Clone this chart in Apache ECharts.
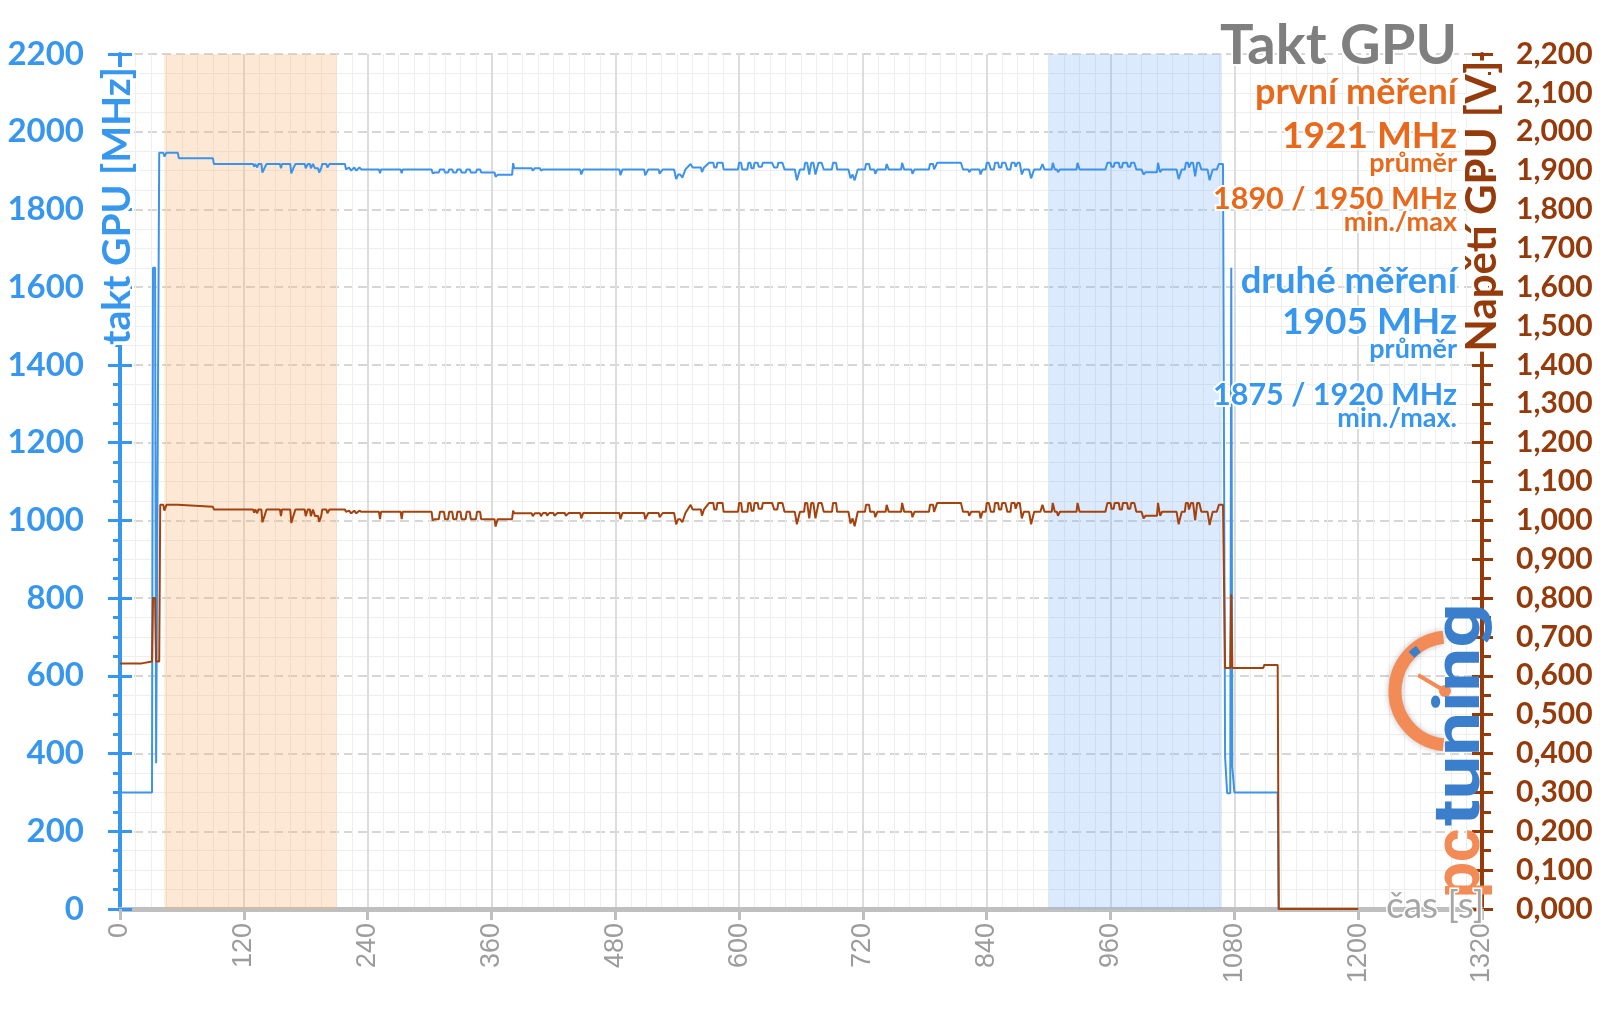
<!DOCTYPE html>
<html>
<head>
<meta charset="utf-8">
<script src="https://cdn.jsdelivr.net/npm/echarts@6/dist/echarts.min.js"></script>
<style>html,body{margin:0;padding:0;background:#fff}#c{width:1600px;height:1009px}</style>
</head>
<body>
<div id="c"></div>
<script>
// ---------- DATA ----------
const timeAxis = { min: 0, max: 1320, interval: 120 };
const clockAxis = { min: 0, max: 2200, interval: 200 };
const voltAxis = { min: 0, max: 2.2, interval: 0.1 };

// measurement windows [from s, to s]
const bandFirst = [43, 210];
const bandSecond = [900, 1068];

// GPU clock [s, MHz]
const clockPoints = [
[0,300],[31,300],[32,1650],[34,1650],[35,375],[38,1946],[42,1946],[43,1936],[45,1946],[56,1946],[57,1932],[90,1932],[91,1917],
[129,1917],[130,1910],[131,1917],[133,1908],[134,1917],[137,1917],[138,1895],[140,1906],[142,1917],[155,1917],[156,1906],[157,1917],
[165,1917],[166,1893],[168,1906],[170,1917],[179,1917],[180,1906],[182,1917],[184,1917],[185,1906],[187,1917],[189,1906],[192,1906],
[193,1895],[195,1906],[196,1917],[200,1917],[201,1908],[203,1917],[218,1917],[219,1903],[222,1908],[224,1900],[227,1908],[229,1900],
[232,1908],[234,1903],[251,1903],[252,1893],[253,1903],[272,1903],[273,1893],[274,1903],[302,1903],[303,1893],[305,1895],[309,1895],
[310,1903],[314,1903],[315,1895],[318,1895],[319,1903],[322,1903],[323,1895],[326,1895],[327,1903],[330,1903],[331,1895],[335,1895],
[336,1903],[339,1903],[340,1895],[345,1895],[346,1903],[349,1903],[350,1895],[363,1895],[364,1884],[366,1889],[380,1889],[381,1919],
[382,1906],[399,1906],[400,1900],[402,1906],[407,1906],[408,1900],[410,1903],[413,1903],[414,1898],[416,1903],[420,1903],[421,1898],
[424,1903],[431,1903],[432,1898],[435,1903],[446,1903],[447,1890],[449,1903],[484,1903],[485,1888],[487,1903],[508,1903],[509,1888],
[512,1903],[522,1903],[523,1892],[526,1903],[537,1903],[539,1878],[541,1890],[543,1890],[545,1882],[548,1903],[553,1917],[555,1908],
[563,1908],[564,1896],[566,1908],[571,1920],[575,1920],[576,1908],[578,1908],[579,1920],[584,1920],[585,1903],[599,1903],[600,1920],
[602,1920],[603,1903],[608,1903],[609,1920],[611,1920],[612,1906],[614,1906],[615,1920],[618,1920],[619,1910],[622,1910],[623,1920],
[632,1920],[634,1908],[637,1908],[638,1920],[642,1920],[644,1903],[654,1903],[656,1875],[659,1903],[663,1903],[664,1920],[666,1920],
[668,1890],[670,1920],[672,1920],[674,1890],[677,1920],[680,1920],[682,1903],[690,1903],[691,1920],[694,1920],[695,1903],[706,1903],
[708,1880],[710,1890],[712,1875],[715,1903],[722,1903],[723,1917],[726,1917],[727,1903],[731,1903],[732,1892],[734,1903],[742,1903],
[743,1917],[745,1903],[757,1903],[758,1920],[760,1903],[767,1903],[768,1892],[770,1903],[784,1903],[785,1917],[788,1917],[789,1903],
[790,1903],[792,1920],[815,1920],[817,1903],[822,1903],[823,1896],[825,1903],[833,1903],[834,1890],[836,1903],[839,1903],[840,1920],
[842,1920],[844,1903],[847,1903],[848,1920],[851,1920],[852,1908],[854,1908],[855,1920],[858,1920],[860,1903],[863,1903],[864,1920],
[867,1920],[868,1910],[869,1910],[870,1920],[872,1920],[874,1890],[876,1903],[881,1903],[883,1880],[886,1903],[892,1903],[894,1917],
[896,1903],[903,1903],[904,1920],[906,1903],[908,1903],[909,1896],[911,1903],[927,1903],[928,1920],[930,1903],[955,1903],[957,1920],
[960,1920],[961,1910],[963,1910],[964,1920],[968,1920],[969,1908],[971,1908],[972,1920],[976,1920],[977,1910],[979,1910],[980,1920],
[983,1920],[985,1903],[990,1903],[992,1890],[994,1896],[1005,1896],[1006,1920],[1008,1896],[1010,1903],[1024,1903],[1026,1878],
[1029,1903],[1032,1903],[1033,1920],[1035,1920],[1036,1908],[1038,1920],[1040,1920],[1042,1885],[1044,1920],[1046,1920],[1048,1903],
[1054,1903],[1056,1875],[1059,1903],[1063,1903],[1065,1917],[1069,1917],[1071,392],[1073,298],[1076,298],[1077,1650],[1078,366],
[1080,300],[1122,300],[1123,0],[1200,0]
];

// GPU voltage [s, V]
const voltagePoints = [
[0,0.632],[21,0.632],[22,0.637],[31,0.637],[32,0.800],[34,0.800],[35,0.637],[38,0.637],[39,1.040],[42,1.040],[43,1.025],[45,1.040],
[56,1.040],[57,1.035],[90,1.035],[91,1.028],[129,1.028],[130,1.020],[131,1.028],[133,1.018],[134,1.028],[137,1.028],[138,0.995],
[140,1.011],[142,1.028],[155,1.028],[156,1.011],[157,1.028],[165,1.028],[166,0.993],[168,1.011],[170,1.028],[179,1.028],[180,1.011],
[182,1.028],[184,1.028],[185,1.011],[187,1.028],[189,1.011],[192,1.011],[193,0.996],[195,1.011],[196,1.028],[200,1.028],[201,1.018],
[203,1.028],[218,1.028],[219,1.022],[222,1.025],[224,1.018],[227,1.025],[229,1.018],[232,1.025],[234,1.022],[251,1.022],[252,1.003],
[253,1.022],[272,1.022],[273,1.003],[274,1.022],[302,1.022],[303,1.000],[305,1.003],[309,1.003],[310,1.022],[314,1.022],[315,1.003],
[318,1.003],[319,1.022],[322,1.022],[323,1.003],[326,1.003],[327,1.022],[330,1.022],[331,1.003],[335,1.003],[336,1.022],[339,1.022],
[340,1.003],[345,1.003],[346,1.022],[349,1.022],[350,1.003],[363,1.003],[364,0.984],[366,1.003],[380,1.003],[381,1.025],[382,1.018],
[399,1.018],[400,1.011],[402,1.018],[407,1.018],[408,1.011],[410,1.019],[413,1.019],[414,1.012],[416,1.019],[420,1.019],[421,1.012],
[424,1.019],[431,1.019],[432,1.012],[435,1.019],[446,1.019],[447,1.005],[449,1.019],[484,1.019],[485,1.003],[487,1.019],[508,1.019],
[509,1.003],[512,1.019],[522,1.019],[523,1.008],[526,1.019],[537,1.019],[539,0.990],[541,1.003],[543,1.003],[545,0.995],[548,1.019],
[553,1.040],[555,1.028],[563,1.028],[564,1.012],[566,1.028],[571,1.045],[575,1.045],[576,1.028],[578,1.028],[579,1.045],[584,1.045],
[585,1.022],[599,1.022],[600,1.045],[602,1.045],[603,1.022],[608,1.022],[609,1.045],[611,1.045],[612,1.025],[614,1.025],[615,1.045],
[618,1.045],[619,1.030],[622,1.030],[623,1.045],[632,1.045],[634,1.028],[637,1.028],[638,1.045],[642,1.045],[644,1.022],[654,1.022],
[656,0.990],[659,1.022],[663,1.022],[664,1.045],[666,1.045],[668,1.005],[670,1.045],[672,1.045],[674,1.005],[677,1.045],[680,1.045],
[682,1.022],[690,1.022],[691,1.045],[694,1.045],[695,1.022],[706,1.022],[708,0.992],[710,1.005],[712,0.985],[715,1.022],[722,1.022],
[723,1.040],[726,1.040],[727,1.022],[731,1.022],[732,1.008],[734,1.022],[742,1.022],[743,1.040],[745,1.022],[757,1.022],[758,1.045],
[760,1.022],[767,1.022],[768,1.008],[770,1.022],[784,1.022],[785,1.040],[788,1.040],[789,1.022],[790,1.022],[792,1.045],[815,1.045],
[817,1.022],[822,1.022],[823,1.012],[825,1.022],[833,1.022],[834,1.005],[836,1.022],[839,1.022],[840,1.045],[842,1.045],[844,1.022],
[847,1.022],[848,1.045],[851,1.045],[852,1.028],[854,1.028],[855,1.045],[858,1.045],[860,1.022],[863,1.022],[864,1.045],[867,1.045],
[868,1.030],[869,1.030],[870,1.045],[872,1.045],[874,1.005],[876,1.022],[881,1.022],[883,0.990],[886,1.022],[892,1.022],[894,1.040],
[896,1.022],[903,1.022],[904,1.045],[906,1.022],[908,1.022],[909,1.012],[911,1.022],[927,1.022],[928,1.045],[930,1.022],[955,1.022],
[957,1.045],[960,1.045],[961,1.030],[963,1.030],[964,1.045],[968,1.045],[969,1.028],[971,1.028],[972,1.045],[976,1.045],[977,1.030],
[979,1.030],[980,1.045],[983,1.045],[985,1.022],[990,1.022],[992,1.005],[994,1.012],[1005,1.012],[1006,1.045],[1008,1.012],[1010,1.022],
[1024,1.022],[1026,0.990],[1029,1.022],[1032,1.022],[1033,1.045],[1035,1.045],[1036,1.028],[1038,1.045],[1040,1.045],[1042,1.000],
[1044,1.045],[1046,1.045],[1048,1.022],[1054,1.022],[1056,0.988],[1059,1.022],[1063,1.022],[1065,1.040],[1069,1.040],[1071,0.620],
[1076,0.620],[1077,0.810],[1078,0.620],[1108,0.620],[1109,0.628],[1122,0.628],[1123,0],[1200,0]
];

// texts
const titleText = 'Takt GPU';
const firstRun = ['první měření', '1921 MHz', 'průměr', '1890 / 1950 MHz', 'min./max'];
const secondRun = ['druhé měření', '1905 MHz', 'průměr', '1875 / 1920 MHz', 'min./max.'];
const leftAxisName = 'takt GPU [MHz]';
const rightAxisName = 'Napětí GPU [V]';
const xAxisName = 'čas [s]';
const logoParts = ['pc', 'tuning'];

// ---------- STYLE ----------
const FONT = 'Lato, "Open Sans", sans-serif';
const BLUE = '#3796ee';
const BLUE_LINE = '#3d93ea';
const BROWN = '#943a0b';
const BROWN_LINE = '#a4420e';
const ORANGE = '#e8691c';
const GRAYAX = '#bfbfbf';
const LOGO_O = '#f28b55';
const LOGO_B = '#3b7fcc';

const chart = echarts.init(document.getElementById('c'), null, { renderer: 'canvas' });

function tickAxis(side, color, len) {
  return {
    type: 'value', position: side, min: 0, max: side === 'left' ? clockAxis.max : voltAxis.max,
    interval: side === 'left' ? clockAxis.interval : voltAxis.interval,
    axisLine: { show: false }, axisLabel: { show: false }, splitLine: { show: false },
    axisTick: { show: true, inside: true, length: len, lineStyle: { color: color, width: 3 } }
  };
}

const textLine = (t, x, y, size, color) => ({
  type: 'text', x: x, y: y, z: 100,
  style: { text: t, fill: color, font: 'bold ' + size + 'px ' + FONT, align: 'right', verticalAlign: 'middle',
           stroke: '#fff', lineWidth: 4 }
});

const RX = 1457;
const option = {
  animation: false,
  backgroundColor: '#fff',
  grid: { left: 120, right: 118, top: 54, bottom: 100, containLabel: false, outerBoundsMode: 'none' },
  xAxis: {
    type: 'value', min: timeAxis.min, max: timeAxis.max, interval: timeAxis.interval,
    axisLine: { show: true, onZero: false, lineStyle: { color: GRAYAX, width: 5 } },
    axisTick: { show: true, length: 11, lineStyle: { color: GRAYAX, width: 3 } },
    minorTick: { show: false, splitNumber: 8 },
    axisLabel: { rotate: 90, margin: 14, color: '#9c9c9c', fontSize: 27, fontFamily: '"Liberation Sans", Arial, sans-serif',
                 formatter: v => String(v) },
    splitLine: { show: true, lineStyle: { color: '#dcdcdc', width: 2 } },
    minorSplitLine: { show: true, lineStyle: { color: '#eeeeee', width: 1 } }
  },
  yAxis: [
    {
      type: 'value', position: 'left', min: clockAxis.min, max: clockAxis.max, interval: clockAxis.interval,
      axisLine: { show: true, lineStyle: { color: BLUE, width: 4 } },
      axisTick: { show: true, length: 12, lineStyle: { color: BLUE, width: 3 } },
      minorTick: { show: true, splitNumber: 4, length: 7, lineStyle: { color: BLUE, width: 3 } },
      axisLabel: { color: BLUE, fontSize: 33, fontWeight: 'bold', fontFamily: FONT, margin: 36, formatter: v => String(v) },
      splitLine: { show: true, lineStyle: { color: '#d6d6d6', width: 2, type: [9, 5] } },
      minorSplitLine: { show: true, lineStyle: { color: '#eeeeee', width: 1 } }
    },
    {
      type: 'value', position: 'right', min: voltAxis.min, max: voltAxis.max, interval: voltAxis.interval,
      axisLine: { show: true, lineStyle: { color: BROWN, width: 4 } },
      axisTick: { show: true, length: 11, lineStyle: { color: BROWN, width: 3 } },
      minorTick: { show: true, splitNumber: 2, length: 9, lineStyle: { color: BROWN, width: 3 } },
      axisLabel: { color: BROWN, fontSize: 30, fontWeight: 'bold', fontFamily: FONT, margin: 34,
                   formatter: v => v.toFixed(3).replace('.', ',') },
      splitLine: { show: false }
    },
    tickAxis('left', BLUE, 12),
    tickAxis('right', BROWN, 10)
  ],
  series: [
    {
      name: 'takt GPU', type: 'line', xAxisIndex: 0, yAxisIndex: 0, data: clockPoints,
      symbol: 'none', showSymbol: false, z: 3,
      lineStyle: { color: BLUE_LINE, width: 2 },
      markArea: {
        silent: true,
        data: [
          [{ xAxis: bandFirst[0], itemStyle: { color: 'rgba(248,180,120,0.30)' } }, { xAxis: bandFirst[1] }],
          [{ xAxis: bandSecond[0], itemStyle: { color: 'rgba(130,180,250,0.28)' } }, { xAxis: bandSecond[1] }]
        ]
      }
    },
    {
      name: 'Napětí GPU', type: 'line', xAxisIndex: 0, yAxisIndex: 1, data: voltagePoints,
      symbol: 'none', showSymbol: false, z: 4,
      lineStyle: { color: BROWN_LINE, width: 2 }
    }
  ],
  graphic: [
    // axis names
    { type: 'text', x: 117, y: 206, rotation: Math.PI / 2, z: 100,
      style: { text: leftAxisName, fill: BLUE, font: 'bold 39px ' + FONT, align: 'center', verticalAlign: 'middle',
               stroke: '#fff', lineWidth: 6, backgroundColor: '#fff', lineHeight: 12 } },
    { type: 'text', x: 1482, y: 206, rotation: Math.PI / 2, z: 100,
      style: { text: rightAxisName, fill: BROWN, font: 'bold 42px ' + FONT, align: 'center', verticalAlign: 'middle',
               stroke: '#fff', lineWidth: 6, backgroundColor: '#fff', lineHeight: 12 } },
    { type: 'text', x: 1386, y: 906, z: 100,
      style: { text: xAxisName, fill: '#a6a6a6', font: '37px ' + FONT, align: 'left', verticalAlign: 'middle', stroke: '#fff', lineWidth: 3 } },
    // title & summary
    textLine(titleText, RX, 46, 56, '#7f7f7f'),
    textLine(firstRun[0], RX, 92, 36, ORANGE),
    textLine(firstRun[1], RX, 136, 37, ORANGE),
    textLine(firstRun[2], RX, 163, 27, ORANGE),
    textLine(firstRun[3], RX, 199, 30.5, ORANGE),
    textLine(firstRun[4], RX, 222, 27, ORANGE),
    textLine(secondRun[0], RX, 281, 36.5, BLUE),
    textLine(secondRun[1], RX, 322, 37, BLUE),
    textLine(secondRun[2], RX, 349, 27, BLUE),
    textLine(secondRun[3], RX, 395, 30.5, BLUE),
    textLine(secondRun[4], RX, 418, 27, BLUE),
    // logo
    { type: 'arc', z: 90, shape: { cx: 1449, cy: 691, r: 54, startAngle: 96 * Math.PI / 180, endAngle: 264 * Math.PI / 180, clockwise: true },
      style: { stroke: LOGO_O, lineWidth: 13, fill: null, shadowBlur: 6, shadowColor: 'rgba(0,0,0,0.25)' } },
    { type: 'arc', z: 91, shape: { cx: 1449, cy: 691, r: 52, startAngle: 224 * Math.PI / 180, endAngle: 234 * Math.PI / 180, clockwise: true },
      style: { stroke: LOGO_B, lineWidth: 8, fill: null } },
    { type: 'line', z: 91, shape: { x1: 1418, y1: 675, x2: 1445, y2: 691 }, style: { stroke: LOGO_O, lineWidth: 4 } },
    { type: 'circle', z: 91, shape: { cx: 1445, cy: 691, r: 6 }, style: { fill: LOGO_O } },
    { type: 'text', x: 1463, y: 898, rotation: Math.PI / 2, z: 92,
      style: { text: logoParts[0], fill: LOGO_O, font: 'bold 64px Roboto, sans-serif', align: 'left', verticalAlign: 'middle',
               shadowBlur: 6, shadowColor: 'rgba(0,0,0,0.25)' } },
    { type: 'text', x: 1463, y: 826, rotation: Math.PI / 2, scaleX: 1.22, z: 92,
      style: { text: logoParts[1], fill: LOGO_B, font: 'bold 64px Roboto, sans-serif', align: 'left', verticalAlign: 'middle',
               shadowBlur: 6, shadowColor: 'rgba(0,0,0,0.25)' } }
  ]
};
chart.setOption(option);
</script>
</body>
</html>
